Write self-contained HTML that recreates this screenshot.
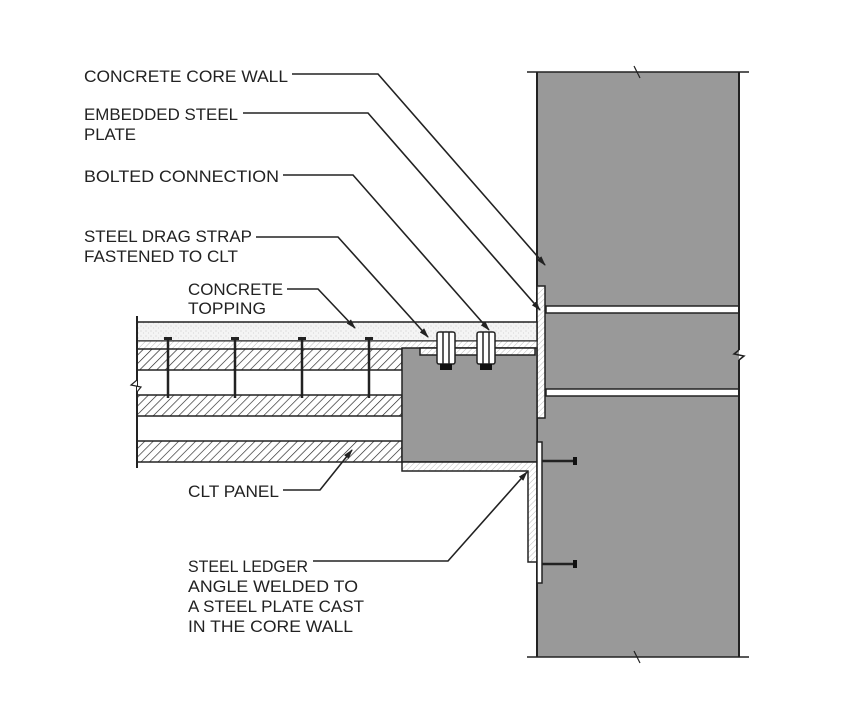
<!DOCTYPE html>
<html><head><meta charset="utf-8"><style>
html,body{margin:0;padding:0;background:#fff;}
svg{display:block}
text{font-family:"Liberation Sans",sans-serif;font-size:16.5px;fill:#222;}
</style></head><body>
<svg width="862" height="722" viewBox="0 0 862 722" xmlns="http://www.w3.org/2000/svg">
<defs>
<pattern id="h" width="6" height="6" patternUnits="userSpaceOnUse" patternTransform="rotate(45)">
<rect width="6" height="6" fill="#fff"/><line x1="0" y1="0" x2="0" y2="6" stroke="#222" stroke-width="1.3"/></pattern>
<pattern id="hl" width="4" height="4" patternUnits="userSpaceOnUse" patternTransform="rotate(45)">
<rect width="4" height="4" fill="#fff"/><line x1="0" y1="0" x2="0" y2="4" stroke="#aaa" stroke-width="0.8"/></pattern>
<pattern id="dots" width="5" height="5" patternUnits="userSpaceOnUse">
<rect width="5" height="5" fill="#f4f4f4"/><circle cx="1" cy="1" r="0.5" fill="#bbb"/><circle cx="3.5" cy="3" r="0.5" fill="#ccc"/></pattern>
<marker id="a" markerWidth="10" markerHeight="8" refX="9" refY="4" orient="auto" markerUnits="userSpaceOnUse"><path d="M0,1 L10,4 L0,7 Z" fill="#222"/></marker>
</defs>
<!-- wall -->
<rect x="537" y="72" width="202" height="585" fill="#999"/>
<rect x="546" y="306" width="193" height="7" fill="#fff" stroke="#222" stroke-width="1.5"/>
<rect x="546" y="389" width="193" height="7" fill="#fff" stroke="#222" stroke-width="1.5"/>
<line x1="537" y1="72" x2="537" y2="657" stroke="#222" stroke-width="2"/>
<line x1="739" y1="72" x2="739" y2="350" stroke="#222" stroke-width="2"/>
<line x1="739" y1="360" x2="739" y2="657" stroke="#222" stroke-width="2"/>
<path d="M739,350 L734,354 L744,356 L739,360" fill="none" stroke="#222" stroke-width="1.5"/>
<line x1="527" y1="72" x2="749" y2="72" stroke="#222" stroke-width="1.5"/>
<line x1="527" y1="657" x2="749" y2="657" stroke="#222" stroke-width="1.5"/>
<path d="M634,66 L637,72 L640,78" stroke="#222" fill="none" stroke-width="1.2"/>
<path d="M634,651 L637,657 L640,663" stroke="#222" fill="none" stroke-width="1.2"/>
<!-- embedded plate -->
<rect x="537" y="286" width="8" height="132" fill="url(#hl)" stroke="#222" stroke-width="1.5"/>
<!-- slab -->
<rect x="137" y="322" width="400" height="19" fill="url(#dots)" stroke="#222" stroke-width="1.5"/>
<rect x="137" y="341" width="400" height="8" fill="url(#hl)" stroke="#222" stroke-width="1"/>
<rect x="137" y="349" width="265" height="21" fill="url(#h)" stroke="#222" stroke-width="1.5"/>
<rect x="137" y="395" width="265" height="21" fill="url(#h)" stroke="#222" stroke-width="1.5"/>
<rect x="137" y="441" width="265" height="21" fill="url(#h)" stroke="#222" stroke-width="1.5"/>
<line x1="137" y1="316" x2="137" y2="468" stroke="#222" stroke-width="2"/>
<path d="M137,380 L131,385 L141,387 L137,392" fill="#fff" stroke="#222" stroke-width="1.2"/>
<!-- gray block -->
<rect x="402" y="348" width="135" height="114" fill="#999" stroke="#222" stroke-width="1.5"/>
<!-- drag strap -->
<path d="M420,348 L420,355 L535,355 L535,348 Z" fill="url(#hl)" stroke="#222" stroke-width="1.5"/>
<!-- nails -->
<g stroke="#222" stroke-width="2.5">
<line x1="168" y1="338" x2="168" y2="398"/><line x1="235" y1="338" x2="235" y2="398"/>
<line x1="302" y1="338" x2="302" y2="398"/><line x1="369" y1="338" x2="369" y2="398"/>
</g>
<g fill="#222"><rect x="164" y="337" width="8" height="3"/><rect x="231" y="337" width="8" height="3"/><rect x="298" y="337" width="8" height="3"/><rect x="365" y="337" width="8" height="3"/></g>
<!-- bolts -->
<g stroke="#222" stroke-width="1.5" fill="#fff">
<rect x="437" y="332" width="18" height="32" rx="2"/><line x1="443" y1="332" x2="443" y2="364"/><line x1="449" y1="332" x2="449" y2="364"/>
<rect x="477" y="332" width="18" height="32" rx="2"/><line x1="483" y1="332" x2="483" y2="364"/><line x1="489" y1="332" x2="489" y2="364"/>
</g>
<rect x="440" y="364" width="12" height="6" fill="#111"/><rect x="480" y="364" width="12" height="6" fill="#111"/>
<!-- ledger angle -->
<path d="M402,462 L402,471 L528,471 L528,562 L537,562 L537,462 Z" fill="url(#hl)" stroke="#222" stroke-width="1.5"/>
<rect x="537" y="442" width="5" height="141" fill="#fff" stroke="#222" stroke-width="1.5"/>
<g stroke="#222" stroke-width="2.5"><line x1="542" y1="461" x2="575" y2="461"/><line x1="542" y1="564" x2="575" y2="564"/></g>
<rect x="573" y="457" width="4" height="8" fill="#111"/><rect x="573" y="560" width="4" height="8" fill="#111"/>
<!-- leaders -->
<g stroke="#222" stroke-width="1.6" fill="none" marker-end="url(#a)">
<polyline points="292,74 378,74 545,265"/>
<polyline points="243,113 368,113 540,310"/>
<polyline points="283,175 353,175 489,330"/>
<polyline points="256,237 338,237 428,337"/>
<polyline points="287,289 318,289 355,328"/>
<polyline points="283,490 320,490 352,450"/>
<polyline points="313,561 448,561 527,472"/>
</g>
<!-- labels -->
<text x="84" y="82" textLength="204" lengthAdjust="spacingAndGlyphs">CONCRETE CORE WALL</text>
<text x="84" y="120" textLength="154" lengthAdjust="spacingAndGlyphs">EMBEDDED STEEL</text>
<text x="84" y="140" textLength="52" lengthAdjust="spacingAndGlyphs">PLATE</text>
<text x="84" y="182" textLength="195" lengthAdjust="spacingAndGlyphs">BOLTED CONNECTION</text>
<text x="84" y="242" textLength="168" lengthAdjust="spacingAndGlyphs">STEEL DRAG STRAP</text>
<text x="84" y="262" textLength="154" lengthAdjust="spacingAndGlyphs">FASTENED TO CLT</text>
<text x="188" y="295" textLength="95" lengthAdjust="spacingAndGlyphs">CONCRETE</text>
<text x="188" y="314" textLength="78" lengthAdjust="spacingAndGlyphs">TOPPING</text>
<text x="188" y="497" textLength="91" lengthAdjust="spacingAndGlyphs">CLT PANEL</text>
<text x="188" y="572" textLength="120" lengthAdjust="spacingAndGlyphs">STEEL LEDGER</text>
<text x="188" y="592" textLength="170" lengthAdjust="spacingAndGlyphs">ANGLE WELDED TO</text>
<text x="188" y="612" textLength="176" lengthAdjust="spacingAndGlyphs">A STEEL PLATE CAST</text>
<text x="188" y="632" textLength="165" lengthAdjust="spacingAndGlyphs">IN THE CORE WALL</text>
</svg>
</body></html>
